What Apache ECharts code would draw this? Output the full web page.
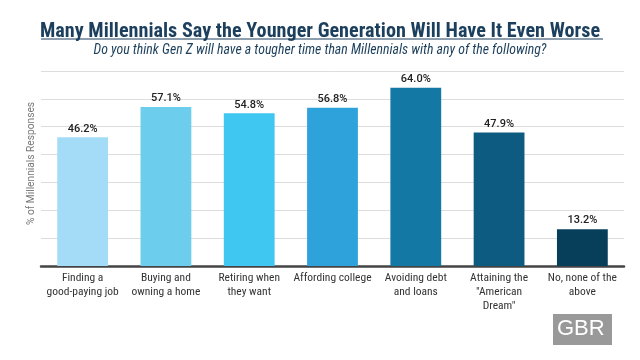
<!DOCTYPE html>
<html><head><meta charset="utf-8">
<script src="https://cdn.jsdelivr.net/npm/echarts@6/dist/echarts.min.js"></script>
<style>html,body{margin:0;padding:0;background:#fff}#c{width:640px;height:360px}</style>
</head><body><div id="c"></div>
<script>
const categories = ['Finding a\ngood-paying job','Buying and\nowning a home','Retiring when\nthey want','Affording college','Avoiding debt\nand loans','Attaining the\n"American\nDream"','No, none of the\nabove'];
const values = [46.2, 57.1, 54.8, 56.8, 64.0, 47.9, 13.2];
const barColors = ['#a4dcf8','#6dcdec','#3fc6f1','#2ea2da','#1478a5','#0d5b80','#073f5b'];
const titleText = 'Many Millennials Say the Younger Generation Will Have It Even Worse';
const subtitleText = 'Do you think Gen Z will have a tougher time than Millennials with any of the following?';
const yName = '% of Millennials Responses';

const cond = '"Roboto Condensed","Liberation Sans Narrow",Roboto';
const chart = echarts.init(document.getElementById('c'), null, {renderer:'canvas'});
chart.setOption({
  backgroundColor:'#fff',
  animation:false,
  title:{
    text:titleText, subtext:subtitleText, left:'center', top:17, itemGap:2,
    padding:[5,0,5,5],
    textStyle:{fontFamily:cond,fontWeight:'bold',fontSize:20.2,color:'#1b3f5c'},
    subtextStyle:{fontFamily:cond,fontStyle:'italic',fontSize:13.8,color:'#1b3f5c'}
  },
  graphic:[
    {type:'line',shape:{x1:41,y1:39,x2:603,y2:39},style:{stroke:'#1b3f5c',lineWidth:1.2}},
    {type:'rect',left:553,top:314,shape:{width:59,height:31},style:{fill:'#999999'}},
    {type:'text',left:557,top:318,style:{text:'GBR',fill:'#fff',font:'22px "Liberation Sans", Roboto, sans-serif'}}
  ],
  grid:{left:41,right:16,top:71,bottom:94},
  xAxis:{
    type:'category', data:categories,
    axisLine:{lineStyle:{color:'#444',width:2.5}},
    axisTick:{show:false},
    axisLabel:{interval:0,color:'#333',fontSize:11.5,fontFamily:cond,lineHeight:14,margin:5}
  },
  yAxis:{
    type:'value', min:0, max:70, interval:10,
    name:yName, nameLocation:'middle', nameRotate:90, nameGap:5,
    nameTextStyle:{color:'#777',fontSize:10.2,fontFamily:'Roboto',padding:[0,0,0,10]},
    axisLabel:{show:false}, axisLine:{show:false}, axisTick:{show:false},
    splitLine:{lineStyle:{color:'#dddddd',width:1}}
  },
  series:[{
    type:'bar', barWidth:'61%',
    data: values.map((v,i)=>({value:v,itemStyle:{color:barColors[i]}})),
    label:{show:true,position:'top',distance:3,formatter:p=>p.value.toFixed(1)+'%',color:'#222',fontSize:11,fontFamily:'Roboto',fontWeight:500}
  }]
});
</script>
</body></html>
